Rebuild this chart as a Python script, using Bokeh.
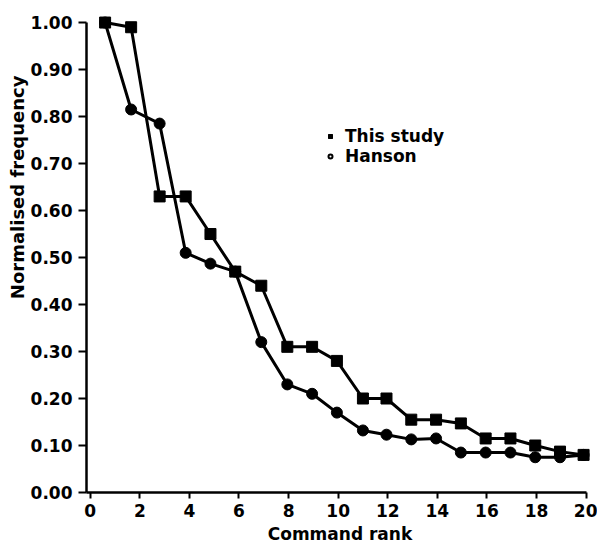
from bokeh.plotting import figure
from bokeh.models import (Range1d, FixedTicker, PrintfTickFormatter, Title,
                          Legend, LegendItem, ColumnDataSource)
from bokeh.embed import file_html
from bokeh.resources import INLINE

# ---- data ----
rank_pos = [0.6, 1.65, 2.8, 3.85, 4.85, 5.85, 6.9, 7.95, 8.95, 9.95,
            11.0, 11.95, 12.95, 13.95, 14.95, 15.95, 16.95, 17.95, 18.95, 19.9]
this_study = [1.00, 0.99, 0.63, 0.63, 0.55, 0.47, 0.44, 0.31, 0.31, 0.28,
              0.20, 0.20, 0.155, 0.155, 0.147, 0.115, 0.115, 0.10, 0.087, 0.08]
hanson = [1.00, 0.815, 0.785, 0.51, 0.487, 0.47, 0.32, 0.23, 0.21, 0.17,
          0.132, 0.123, 0.113, 0.115, 0.085, 0.085, 0.085, 0.075, 0.075, 0.08]
x_ticks = [0, 2, 4, 6, 8, 10, 12, 14, 16, 18, 20]
y_ticks = [0.0, 0.1, 0.2, 0.3, 0.4, 0.5, 0.6, 0.7, 0.8, 0.9, 1.0]
series_names = ["This study", "Hanson"]
x_title = "Command rank"
y_title = "Normalised frequency"

FONT = "DejaVu Sans"
NAN = float("nan")

p = figure(width=597, height=546, output_backend="svg", toolbar_location=None,
           x_range=Range1d(-0.15, 20.3), y_range=Range1d(0, 1.015),
           min_border_left=86, min_border_right=4, min_border_top=15,
           min_border_bottom=52)
p.outline_line_color = None
p.xgrid.visible = False
p.ygrid.visible = False
p.background_fill_color = "white"
p.border_fill_color = "white"

src = ColumnDataSource(dict(x=rank_pos, a=this_study, b=hanson))

p.line("x", "a", source=src, line_color="black", line_width=3)
p.line("x", "b", source=src, line_color="black", line_width=3)
p.scatter("x", "a", source=src, marker="square", size=11,
          fill_color="black", line_color="black")
p.scatter("x", "b", source=src, marker="circle", size=11,
          fill_color="black", line_color="black")
# key glyphs (not drawn in the plot area)
sq_key = p.scatter(x=[NAN], y=[NAN], marker="square_x", size=9,
                   fill_color="black", line_color="black", line_width=1)
ci_key = p.scatter(x=[NAN], y=[NAN], marker="circle", size=8,
                   fill_color="white", line_color="black", line_width=2)

for ax in (p.xaxis[0], p.yaxis[0]):
    ax.axis_line_width = 2.5
    ax.axis_line_color = "black"
    ax.major_tick_line_width = 2
    ax.major_tick_line_color = "black"
    ax.minor_tick_line_color = None
    ax.major_label_text_font = FONT
    ax.major_label_text_font_style = "bold"
    ax.major_label_text_font_size = "17px"
    ax.major_label_text_color = "black"

p.xaxis.ticker = FixedTicker(ticks=x_ticks)
p.xaxis.bounds = (-0.15, 20)
p.xaxis.major_tick_out = 6
p.xaxis.major_tick_in = 0
p.xaxis.major_label_standoff = 5
p.xaxis.axis_label = x_title
p.xaxis.axis_label_text_font = FONT
p.xaxis.axis_label_text_font_style = "bold"
p.xaxis.axis_label_text_font_size = "17px"
p.xaxis.axis_label_text_color = "black"
p.xaxis.axis_label_standoff = 4

p.yaxis.ticker = FixedTicker(ticks=y_ticks)
p.yaxis.formatter = PrintfTickFormatter(format="%.2f")
p.yaxis.bounds = (0, 1.0)
p.yaxis.major_tick_out = 8
p.yaxis.major_tick_in = 0
p.yaxis.major_label_standoff = 6

ytitle = Title(text=y_title, align="right", offset=60, text_font=FONT,
               text_font_style="bold", text_font_size="18px",
               text_color="black", standoff=0)
p.add_layout(ytitle, "left")

legend = Legend(items=[LegendItem(label=series_names[0], renderers=[sq_key]),
                       LegendItem(label=series_names[1], renderers=[ci_key])],
                location=(239, 326), orientation="vertical",
                label_text_font=FONT, label_text_font_style="bold",
                label_text_font_size="17px", label_text_color="black",
                glyph_width=10, glyph_height=12,
                label_standoff=10, padding=0, margin=0, spacing=0,
                border_line_alpha=0, background_fill_alpha=0)
p.add_layout(legend)

open("out.html", "w").write(file_html(p, INLINE))
